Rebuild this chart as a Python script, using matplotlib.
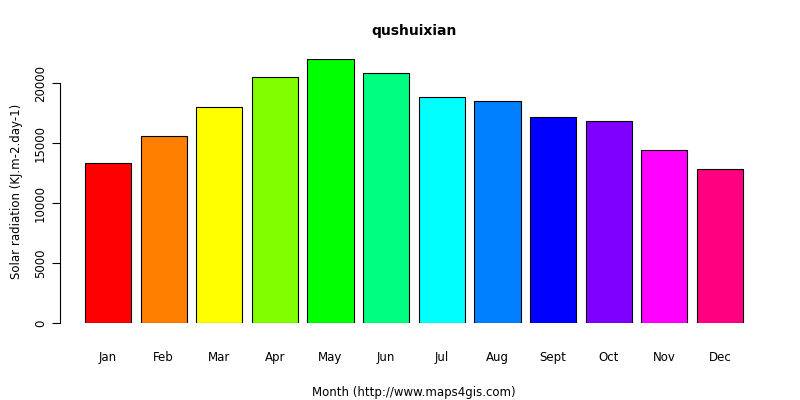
import matplotlib
matplotlib.use("Agg")
import matplotlib.pyplot as plt

months = ["Jan","Feb","Mar","Apr","May","Jun","Jul","Aug","Sept","Oct","Nov","Dec"]
values = [13300,15600,18000,20500,22000,20800,18800,18500,17200,16800,14400,12800]
colors = ["#FF0000","#FF8000","#FFFF00","#80FF00","#00FF00","#00FF80",
          "#00FFFF","#0080FF","#0000FF","#8000FF","#FF00FF","#FF0080"]

fig = plt.figure(figsize=(8,4), dpi=100)
ax = fig.add_axes([60/800, 1-323/400, 708/800, (323-59)/400])
x = list(range(len(months)))
ax.bar(x, values, width=0.83, color=colors, edgecolor="black", linewidth=0.8)
ax.set_xlim(-0.864, 11.864)
ax.set_ylim(0, 22000)
for s in ["top","right","bottom"]:
    ax.spines[s].set_visible(False)
ax.spines["left"].set_bounds(0, 20000)
ax.set_yticks([0,5000,10000,15000,20000])
ax.set_yticklabels(["0","5000","10000","15000","20000"], rotation=90, va="center", fontsize=8.5)
ax.set_xticks(x)
ax.set_xticklabels(months, fontsize=8.5)
ax.tick_params(axis="x", length=0, pad=20)
ax.tick_params(axis="y", length=6)
ax.set_xlabel("Month (http://www.maps4gis.com)", fontsize=8.5, labelpad=16)
ax.set_ylabel("Solar radiation (KJ.m-2.day-1)", fontsize=8.5, labelpad=8)
fig.text(414/800, 1-31/400, "qushuixian", ha="center", va="center", fontsize=10, fontweight="bold")
fig.savefig("out.png", dpi=100)
